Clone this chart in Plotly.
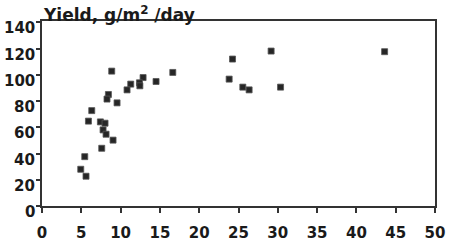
import plotly.graph_objects as go

x_vals = [8.87, 12.86, 11.29, 12.40, 12.45, 10.82, 14.51, 16.64, 8.45, 8.27,
          9.55, 6.33, 5.91, 7.43, 8.02, 7.77, 8.15, 9.04, 7.60, 5.44,
          4.93, 5.60, 24.24, 29.15, 23.81, 25.55, 26.35, 30.35, 43.59]
y_vals = [102.8, 97.9, 92.9, 93.9, 91.6, 88.5, 94.9, 101.8, 85.0, 81.5,
          78.6, 72.7, 64.7, 64.1, 63.1, 58.0, 54.7, 50.2, 44.0, 37.6,
          28.0, 22.7, 112.0, 118.1, 96.7, 90.6, 88.5, 90.6, 117.6]
x_ticks = [0, 5, 10, 15, 20, 25, 30, 35, 40, 45, 50]
y_ticks = [0, 20, 40, 60, 80, 100, 120, 140]
title_text = "Yield, g/m<sup>2</sup> /day"

font = dict(family="DejaVu Sans", size=15, color="#1a1a1a", weight=600)

fig = go.Figure(go.Scatter(
    x=x_vals, y=y_vals, mode="markers",
    marker=dict(symbol="square", size=6, color="#262626",
                line=dict(color="#555555", width=0.8)),
    hoverinfo="skip", showlegend=False))

axis_common = dict(showline=True, linecolor="#333333", linewidth=1.5, mirror=True,
                   showgrid=False, zeroline=False, ticks="outside",
                   tickcolor="#333333", tickwidth=1.5, tickfont=font,
                   automargin=False)

annotations = [dict(text=title_text, x=0, y=1, xref="paper", yref="paper",
                    xanchor="left", yanchor="bottom", xshift=-1, yshift=-6,
                    showarrow=False, font=dict(font, size=17))]
for v in y_ticks:
    annotations.append(dict(text=str(v), x=0, y=v, xref="paper", yref="y",
                            xanchor="right", yanchor="middle", xshift=-5, yshift=-6,
                            showarrow=False, font=font))

fig.update_layout(
    width=450, height=245,
    margin=dict(l=42, r=15, t=21, b=39),
    plot_bgcolor="white", paper_bgcolor="white",
    xaxis=dict(range=[0, 50], tickvals=x_ticks, ticklen=5,
               ticklabelstandoff=7, **axis_common),
    yaxis=dict(range=[0, 141], tickvals=y_ticks, ticklen=4,
               showticklabels=False, **axis_common),
    annotations=annotations,
)

fig.write_html("out.html")
